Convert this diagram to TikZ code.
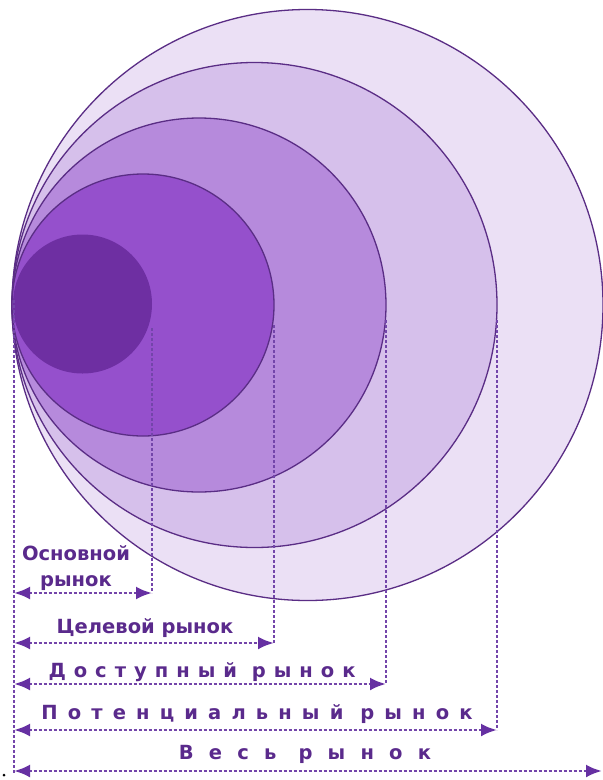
\documentclass[tikz,border=0pt]{standalone}
\usepackage{fontspec}
\setmainfont{DejaVu Sans}
\usetikzlibrary{arrows.meta}
\definecolor{c1}{HTML}{EBE0F5}
\definecolor{c2}{HTML}{D6C0EB}
\definecolor{c3}{HTML}{B68ADC}
\definecolor{c4}{HTML}{9550CC}
\definecolor{c5}{HTML}{6E2FA2}
\definecolor{ring}{HTML}{5A2D85}
\definecolor{txt}{HTML}{5A2A8C}
\definecolor{dashc}{HTML}{7345AA}
\definecolor{tipc}{HTML}{6630A2}
\tikzset{
  ringc/.style={fill=#1, draw=ring, line width=1.3pt},
  guide/.style={draw=dashc, line width=2.8pt, dash pattern=on 3pt off 2pt},
  span/.style={guide, {Latex[length=16pt,width=13pt,fill=tipc,color=tipc]}-{Latex[length=16pt,width=13pt,fill=tipc,color=tipc]}},
  lbl/.style={text=txt, font=\bfseries\fontsize{19.5}{22}\selectfont, inner sep=0pt, anchor=base},
}
\begin{document}
\begin{tikzpicture}[x=1pt,y=-1pt]
\useasboundingbox (0,0) rectangle (603,780);
\fill[white] (0,0) rectangle (603,780);
% circles
\path[ringc=c1] (307.5,305) circle (295.5);
\path[ringc=c2] (254.5,305) circle (242.5);
\path[ringc=c3] (199,305) circle (187);
\path[ringc=c4] (143,305) circle (131);
\fill[c5] (82.5,304) circle (69.5);
% coordinates
\coordinate (l0) at (14,300);
\coordinate (l1) at (14,774);
\coordinate (v1t) at (152,328); \coordinate (v1b) at (152,593);
\coordinate (v2t) at (274,325); \coordinate (v2b) at (274,643);
\coordinate (v3t) at (386,320); \coordinate (v3b) at (386,684);
\coordinate (v4t) at (497,320); \coordinate (v4b) at (497,730);
\coordinate (a1) at (14,593);
\coordinate (a2) at (14,643);
\coordinate (a3) at (14,684);
\coordinate (a4) at (14,730);
\coordinate (a5) at (14,771);
\coordinate (b5) at (602,771);
% guides
\draw[guide] (l0) -- (l1);
\draw[guide] (v1t) -- (v1b);
\draw[guide] (v2t) -- (v2b);
\draw[guide] (v3t) -- (v3b);
\draw[guide] (v4t) -- (v4b);
% spans
\draw[span] (a1) -- (v1b);
\draw[span] (a2) -- (v2b);
\draw[span] (a3) -- (v3b);
\draw[span] (a4) -- (v4b);
\draw[span] (a5) -- (b5);
% labels
\node[lbl] (t1a) at (76,560) {Основной};
\node[lbl] (t1b) at (76,586) {рынок};
\node[lbl] (t2) at (145,633) {Целевой рынок};
\node[lbl, font=\bfseries\fontsize{19.5}{22}\selectfont\addfontfeatures{LetterSpace=41}] (t3) at (202,677) {Доступный рынок};
\node[lbl, font=\bfseries\fontsize{19.5}{22}\selectfont\addfontfeatures{LetterSpace=52}] (t4) at (257,719) {Потенциальный рынок};
\node[lbl, font=\bfseries\fontsize{19.5}{22}\selectfont\addfontfeatures{LetterSpace=78}] (t5) at (305,759) {Весь рынок};
% stray dot
\fill[black] (4,775) circle (1.5) node (dot) {};
\end{tikzpicture}
\end{document}
